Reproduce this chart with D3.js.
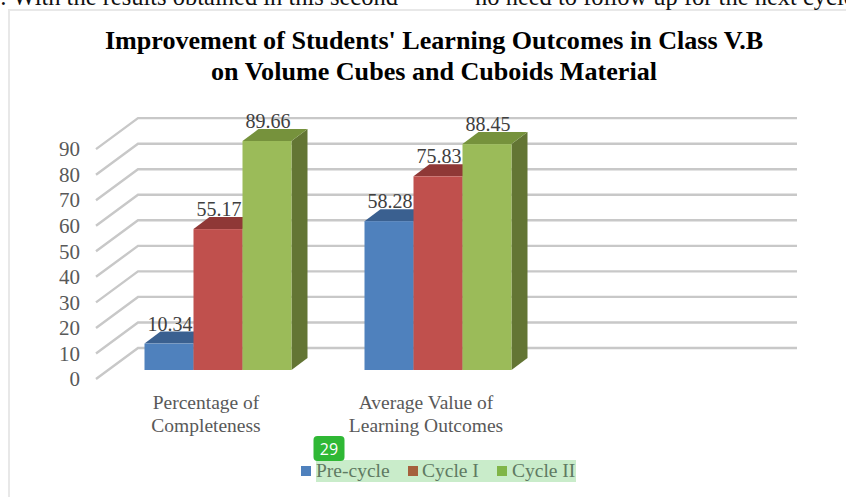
<!DOCTYPE html>
<html><head><meta charset="utf-8">
<script src="https://cdn.jsdelivr.net/npm/d3@7"></script>
<style>html,body{margin:0;padding:0;background:#fff;overflow:hidden}svg{display:block}text{font-family:"Liberation Serif",serif}</style>
</head><body><svg id="c" width="846" height="497"></svg>
<script>
const categories=["Percentage of Completeness","Average Value of Learning Outcomes",""];
const categoryLines=[["Percentage of","Completeness"],["Average Value of","Learning Outcomes"]];
const seriesNames=["Pre-cycle","Cycle I","Cycle II"];
const preCycle=[10.34,58.28];
const cycleI=[55.17,75.83];
const cycleII=[89.66,88.45];
const tickValues=[0,10,20,30,40,50,60,70,80,90];
const titleLines=["Improvement of Students' Learning Outcomes in Class V.B","on Volume Cubes and Cuboids Material"];
const pageLine=[": With the results obtained in this second","no need to follow up for the next cycle"];
const pageNumber="29";
const seriesValues=[preCycle,cycleI,cycleII];
const front=["#4f81bd","#c0504d","#9bbb59"],top3=["#3a6090","#8f3836","#76923c"],side=["#2f4f77","#7a2f2d","#637534"];

const svg=d3.select("#c");
const baseY=370, unit=2.554;
const y=d3.scaleLinear().domain([0,90]).range([baseY,baseY-90*unit]);
const x0=d3.scaleBand().domain(categories).range([108,768]);
const x1=d3.scaleBand().domain(d3.range(3)).range([0,147]);
const barD={dx:16,dy:-12};

// page fragments
svg.append("rect").attr("x",9).attr("y",10).attr("width",845).attr("height",490).attr("fill","#fff").attr("stroke","#e8e8e8").attr("stroke-width",2);
const pg=svg.append("g").attr("font-size",24.5).attr("fill","#111");
pg.append("text").attr("x",0).attr("y",5).text(pageLine[0]);
pg.append("text").attr("x",475).attr("y",5).text(pageLine[1]);

// title
svg.append("g").selectAll("text").data(titleLines).join("text")
 .attr("x",434).attr("y",(d,i)=>49+i*31).attr("text-anchor","middle")
 .attr("font-size",26.1).attr("font-weight","bold").attr("fill","#000").text(d=>d);

// grid
const grid=svg.append("g").attr("fill","none").attr("stroke","#c8c8c8").attr("stroke-width",2.4);
const frontX=96, backX=138, rightX=797;
tickValues.forEach(t=>{
  const yb=y(t)-22;
  grid.append("path").attr("d",d3.line()([[frontX,yb+31],[backX,yb],[rightX,yb]]));
});

// y labels (via d3 axis)
const axisG=svg.append("g").attr("transform","translate(86,9)").call(d3.axisLeft(y).tickValues(tickValues).tickSize(0).tickPadding(6));
axisG.select(".domain").remove();
axisG.selectAll("text").attr("font-family",'"Liberation Serif",serif').attr("font-size",21).attr("fill","#595959");

// bars
const bars=svg.append("g");
categoryLines.forEach((_,ci)=>{
  const bx=x0(categories[ci])+x0.bandwidth()/2-73.5;
  seriesValues.forEach((vals,si)=>{
    const v=vals[ci], l=bx+x1(si), w=x1.bandwidth(), r=l+w, t=y(v), b=y(0);
    const {dx,dy}=barD;
    const g=bars.append("g");
    g.append("path").attr("fill",side[si]).attr("d",d3.line()([[r,b],[r+dx,b+dy],[r+dx,t+dy],[r,t]]));
    g.append("path").attr("fill",top3[si]).attr("d",d3.line()([[l,t],[l+dx,t+dy],[r+dx,t+dy],[r,t]]));
    g.append("rect").attr("x",l).attr("y",t).attr("width",w).attr("height",b-t).attr("fill",front[si]);
  });
});
// value labels
const lab=svg.append("g").attr("font-size",20).attr("fill","#404040").attr("text-anchor","middle");
categoryLines.forEach((_,ci)=>{
  const bx=x0(categories[ci])+x0.bandwidth()/2-73.5;
  seriesValues.forEach((vals,si)=>{
    lab.append("text").attr("x",bx+x1(si)+x1.bandwidth()/2+1).attr("y",y(vals[ci])-13).text(vals[ci].toFixed(2));
  });
});
// category labels
const cat=svg.append("g").attr("font-size",19.5).attr("fill","#595959").attr("text-anchor","middle");
categoryLines.forEach((ls,ci)=>{
  const cx=x0(categories[ci])+x0.bandwidth()/2-12;
  ls.forEach((s,i)=>cat.append("text").attr("x",cx).attr("y",409+i*23).text(s));
});

// legend highlight, badge
svg.append("rect").attr("x",316).attr("y",460).attr("width",260).attr("height",22).attr("fill","#c9ecca");
svg.append("rect").attr("x",313.5).attr("y",436).attr("width",31).attr("height",25).attr("rx",4).attr("fill","#2fb835");
svg.append("text").attr("x",329).attr("y",455).attr("text-anchor","middle").attr("font-size",16).attr("fill","#fff").style("font-family","'Open Sans',sans-serif").text(pageNumber);

const legendX=[301,408,497], legendText=[316,422,512];
const legendFill=["#4f81bd","#a5603c","#80b548"];
const leg=svg.append("g");
seriesNames.forEach((n,i)=>{
  leg.append("rect").attr("x",legendX[i]).attr("y",466).attr("width",10).attr("height",10).attr("fill",legendFill[i]);
  leg.append("text").attr("x",legendText[i]).attr("y",477).attr("font-size",19.5).attr("fill","#5f7a62").text(n);
});
</script></body></html>
